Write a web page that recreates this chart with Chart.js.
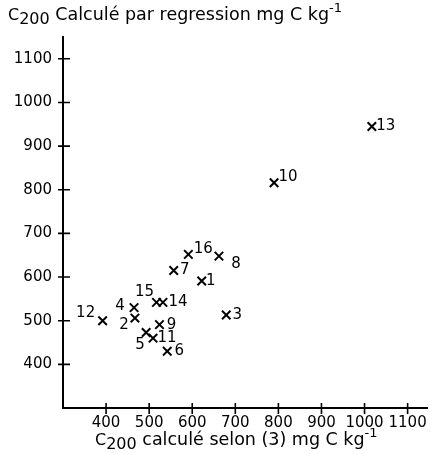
<!DOCTYPE html>
<html>
<head>
<meta charset="utf-8">
<script src="https://cdn.jsdelivr.net/npm/chart.js@4"></script>
<style>
  html, body { margin: 0; padding: 0; background: #fff; }
  #wrap { width: 435px; height: 454px; }
</style>
</head>
<body>
<div id="wrap"><canvas id="canvas1"></canvas></div>
<script>
// -- data ------------------------------------------------------------------->
const pointIds = ['1', '2', '3', '4', '5', '6', '7', '8', '9', '10', '11', '12', '13', '14', '15', '16']
const xValues = [622, 467, 679, 465, 493, 542, 557, 662, 524, 790, 509, 392, 1017, 532, 517, 591]
const yValues = [591, 506, 513, 530, 473, 430, 615, 648, 491, 816, 460, 500, 945, 542, 542, 652]
const xTicks = [400, 500, 600, 700, 800, 900, 1000, 1100]
const yTicks = [400, 500, 600, 700, 800, 900, 1000, 1100]

// where each number sits relative to its cross, in px (label centre)
const labelOffsets = {
    '1': [9, 0], '2': [-11, 7], '3': [11, 0], '4': [-14, -2],
    '5': [-6, 13], '6': [12, 0], '7': [11, 0], '8': [17, 8],
    '9': [12, 0], '10': [14, -6], '11': [14, 0], '12': [-17, -8],
    '13': [14, 0], '14': [15, 0], '15': [-12, -10], '16': [15, -5]
}

const FONT = '"DejaVu Sans", sans-serif'

// -- plugins ---------------------------------------------------------------->
// numbers next to the crosses
const pointLabels = {
    id: 'pointLabels',
    afterDatasetsDraw(chart) {
        const ctx = chart.ctx
        const meta = chart.getDatasetMeta(0)
        ctx.save()
        ctx.fillStyle = '#000'
        ctx.font = '15px ' + FONT
        ctx.textAlign = 'center'
        ctx.textBaseline = 'middle'
        meta.data.forEach((pt, i) => {
            const id = pointIds[i]
            const off = labelOffsets[id] || [10, 0]
            ctx.fillText(id, pt.x + off[0], pt.y + off[1])
        })
        ctx.restore()
    }
}

// ticks that cross the axis line, like the drawn figure
const crossTicks = {
    id: 'crossTicks',
    afterDraw(chart) {
        const ctx = chart.ctx
        const xs = chart.scales.x
        const ys = chart.scales.y
        const area = chart.chartArea
        ctx.save()
        ctx.strokeStyle = '#000'
        ctx.lineWidth = 1.6
        ctx.beginPath()
        xs.ticks.forEach(t => {
            const px = xs.getPixelForValue(t.value)
            ctx.moveTo(px, area.bottom - 5)
            ctx.lineTo(px, area.bottom + 6)
        })
        ys.ticks.forEach(t => {
            const py = ys.getPixelForValue(t.value)
            ctx.moveTo(area.left - 5, py)
            ctx.lineTo(area.left + 7, py)
        })
        ctx.stroke()
        ctx.restore()
    }
}

// axis titles with the sub/superscripts
function drawRich(ctx, parts, x, y) {
    let cx = x
    parts.forEach(p => {
        ctx.font = p.size + 'px ' + FONT
        ctx.fillText(p.text, cx, y + (p.dy || 0))
        cx += ctx.measureText(p.text).width
    })
}

const axisTitles = {
    id: 'axisTitles',
    afterDraw(chart) {
        const ctx = chart.ctx
        ctx.save()
        ctx.fillStyle = '#000'
        ctx.textBaseline = 'alphabetic'
        ctx.textAlign = 'left'
        drawRich(ctx, [
            { text: 'C', size: 16 },
            { text: '200', size: 16, dy: 4 },
            { text: ' Calculé par regression mg C kg', size: 17.5 },
            { text: '-1', size: 13, dy: -8 }
        ], 8, 20)
        drawRich(ctx, [
            { text: 'C', size: 16 },
            { text: '200', size: 16, dy: 4 },
            { text: ' calculé selon (3) mg C kg', size: 17.5 },
            { text: '-1', size: 13, dy: -8 }
        ], 95, 445)
        ctx.restore()
    }
}

// -- chart ------------------------------------------------------------------>
let ctx1 = document.getElementById('canvas1')

new Chart(ctx1, {
    type: 'scatter',
    data: {
        datasets: [
            {
                data: xValues.map((x, i) => ({ x: x, y: yValues[i] })),
                pointStyle: 'crossRot',
                radius: 6,
                hoverRadius: 6,
                borderWidth: 2,
                borderColor: '#000',
                backgroundColor: '#000'
            }
        ]
    },
    options: {
        responsive: true,
        maintainAspectRatio: false,
        animation: false,
        layout: { padding: { top: 37, right: 0, left: 0, bottom: 0 } },
        plugins: {
            legend: { display: false },
            tooltip: { enabled: false }
        },
        scales: {
            x: {
                type: 'linear',
                min: 300,
                max: 1145,
                grid: { display: false, drawTicks: false },
                border: { display: true, color: '#000', width: 2 },
                ticks: {
                    color: '#000', font: { size: 15, family: FONT }, padding: 6, maxRotation: 0,
                    callback: v => String(v)
                },
                afterBuildTicks: scale => { scale.ticks = xTicks.map(v => ({ value: v })) },
                afterFit: scale => { scale.height = 46 }
            },
            y: {
                type: 'linear',
                min: 300,
                max: 1150,
                grid: { display: false, drawTicks: false },
                border: { display: true, color: '#000', width: 2 },
                ticks: {
                    color: '#000', font: { size: 15, family: FONT }, padding: 11,
                    callback: v => String(v)
                },
                afterBuildTicks: scale => { scale.ticks = yTicks.map(v => ({ value: v })) },
                afterFit: scale => { scale.width = 63 }
            }
        }
    },
    plugins: [pointLabels, crossTicks, axisTitles]
});
</script>
</body>
</html>
